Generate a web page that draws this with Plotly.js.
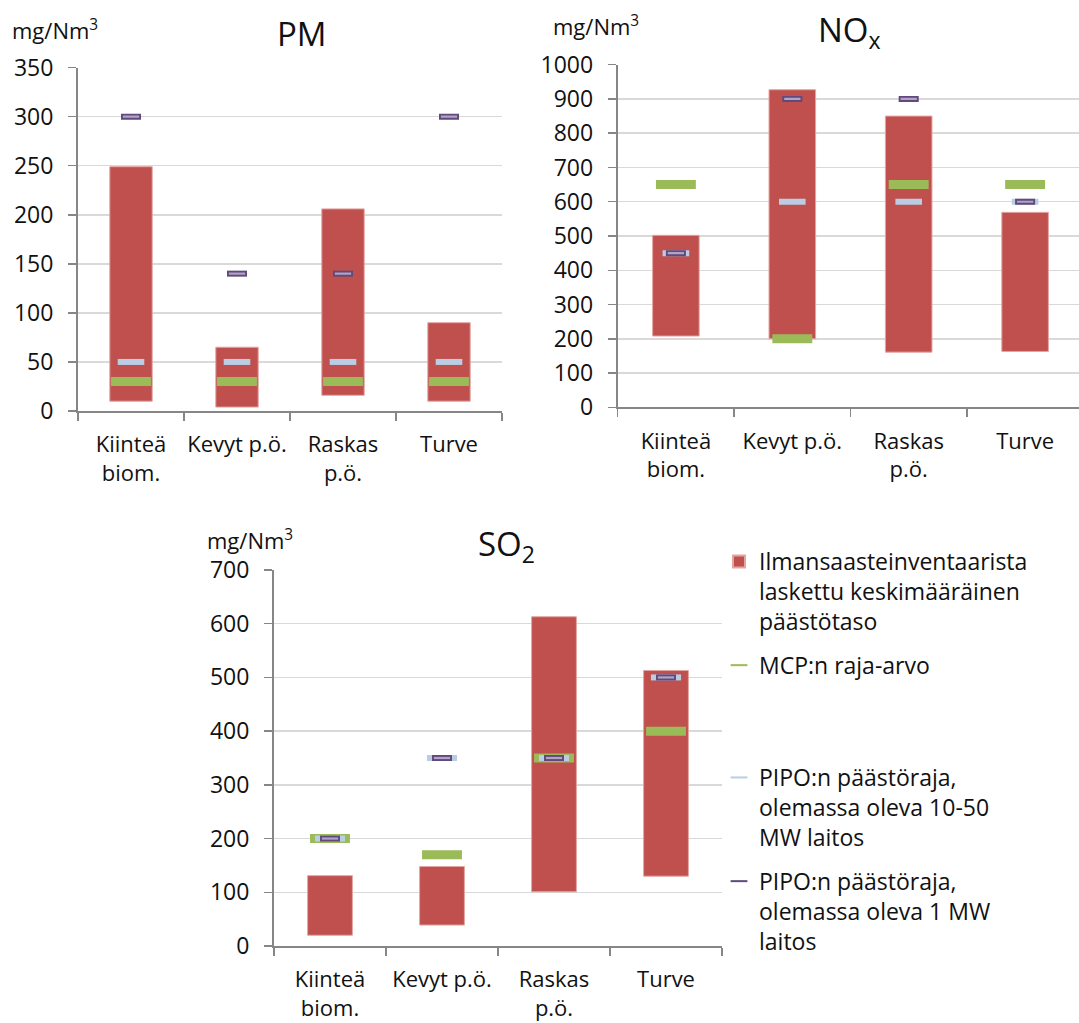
<!DOCTYPE html>
<html>
<head>
<meta charset="utf-8">
<script src="https://cdn.plot.ly/plotly-3.0.1.min.js"></script>
<style>html,body{margin:0;padding:0;background:#fff;}</style>
</head>
<body>
<div id="chart" style="width:1079px;height:1023px;"></div>
<script>
// ---- data ----
const categories = ['Kiinteä biom.', 'Kevyt p.ö.', 'Raskas p.ö.', 'Turve'];
const tickLabels = ['Kiinteä<br>biom.', 'Kevyt p.ö.', 'Raskas<br>p.ö.', 'Turve'];
const seriesNames = [
  'Ilmansaasteinventaarista<br>laskettu keskimääräinen<br>päästötaso',
  'MCP:n raja-arvo',
  'PIPO:n päästöraja,<br>olemassa oleva 10-50<br>MW laitos',
  'PIPO:n päästöraja,<br>olemassa oleva 1 MW<br>laitos'
];
const chartTitles = ['PM', 'NO<sub>x</sub>', 'SO<sub>2</sub>'];
const unitLabel = 'mg/Nm<sup>3</sup>';

// PM
const pmLow    = [10, 4, 16, 10];
const pmHigh   = [249, 65, 206, 90];
const pmMcp    = [30, 30, 30, 30];
const pmPipo50 = [50, 50, 50, 50];
const pmPipo1  = [300, 140, 140, 300];
// NOx
const noxLow    = [208, 200, 161, 163];
const noxHigh   = [502, 927, 850, 569];
const noxMcp    = [650, 200, 650, 650];
const noxPipo50 = [450, 600, 600, 600];
const noxPipo1  = [450, 900, 900, 600];
// SO2
const so2Low    = [20, 39, 101, 130];
const so2High   = [131, 148, 613, 513];
const so2Mcp    = [200, 170, 350, 400];
const so2Pipo50 = [200, 350, 350, 500];
const so2Pipo1  = [200, 350, 350, 500];

// ---- styles ----
const RED = '#c0504d', GREEN = '#9bbb59', LBLUE = '#b9cde5', PDARK = '#5f4a7b', PLIGHT = '#b3a2c7';
const FONT = 'Open Sans, Noto Sans, DejaVu Sans, sans-serif';

function buildTraces(xa, ya, low, high, mcp, p50, p1, first, lbSize) {
  const tr = [];
  tr.push({
    type: 'bar', x: categories, y: high.map((h, i) => h - low[i]), base: low,
    width: 0.4, xaxis: xa, yaxis: ya, name: seriesNames[0], legend: 'legend',
    legendgroup: 's0', showlegend: first,
    marker: {color: RED, line: {color: '#e3a5a3', width: 1}}
  });
  tr.push({
    type: 'scatter', mode: 'markers', x: categories, y: mcp, xaxis: xa, yaxis: ya,
    name: seriesNames[1], legend: 'legend', legendgroup: 's1', showlegend: first,
    marker: {symbol: 'line-ew', size: 28.5, color: GREEN, line: {color: GREEN, width: 9}}
  });
  tr.push({
    type: 'scatter', mode: 'markers', x: categories, y: p50, xaxis: xa, yaxis: ya,
    name: seriesNames[2], legend: 'legend2', legendgroup: 's2', showlegend: first,
    marker: {symbol: 'line-ew', size: lbSize, color: LBLUE, line: {color: LBLUE, width: 6}}
  });
  tr.push({
    type: 'scatter', mode: 'markers', x: categories, y: p1, xaxis: xa, yaxis: ya,
    name: seriesNames[3], legend: 'legend2', legendgroup: 's3', showlegend: first,
    marker: {symbol: 'line-ew', size: 14.3, color: PDARK, line: {color: PDARK, width: 6}}
  });
  tr.push({
    type: 'scatter', mode: 'markers', x: categories, y: p1, xaxis: xa, yaxis: ya,
    name: seriesNames[3], legendgroup: 's3', showlegend: false,
    marker: {symbol: 'line-ew', size: 11.6, color: PLIGHT, line: {color: PLIGHT, width: 2.2}}
  });
  return tr;
}

const traces = []
  .concat(buildTraces('x', 'y', pmLow, pmHigh, pmMcp, pmPipo50, pmPipo1, true, 19))
  .concat(buildTraces('x2', 'y2', noxLow, noxHigh, noxMcp, noxPipo50, noxPipo1, false, 19))
  .concat(buildTraces('x3', 'y3', so2Low, so2High, so2Mcp, so2Pipo50, so2Pipo1, false, 21.5));

const W = 1079, H = 1023;
const px = v => v / W;
const py = v => 1 - v / H;

function xAxis(d0, d1, anchor, rng) {
  return {
    domain: [px(d0), px(d1)], anchor: anchor, type: 'category',
    categoryorder: 'array', categoryarray: categories,
    tickmode: 'array', tickvals: categories, ticktext: tickLabels,
    range: rng, tickson: 'boundaries', ticks: 'outside', ticklen: 8,
    tickwidth: 1.5, tickcolor: '#868686', showline: true, linecolor: '#868686',
    linewidth: 2, showgrid: false, zeroline: false, fixedrange: true,
    tickangle: 0, automargin: false,
    tickfont: {family: FONT, size: 22, color: '#111'}, ticklabelstandoff: 13
  };
}
function yAxis(bottom, top, anchor, maxV, dt) {
  return {
    domain: [py(bottom), py(top)], anchor: anchor, range: [0, maxV], dtick: dt,
    tick0: 0, ticks: 'outside', ticklen: 8, tickwidth: 1.5, tickcolor: '#868686',
    showline: true, linecolor: '#868686', linewidth: 2, showgrid: true,
    gridcolor: '#d9d9d9', gridwidth: 1.5, zeroline: false, fixedrange: true,
    automargin: false,
    tickfont: {family: FONT, size: 23, color: '#111'}, ticklabelstandoff: 10
  };
}

const legendBase = {
  xanchor: 'left', yanchor: 'top',
  font: {family: FONT, size: 23, color: '#111'}, itemsizing: 'constant',
  valign: 'top', bgcolor: 'rgba(0,0,0,0)', tracegroupgap: 11, traceorder: 'grouped'
};

const annFont = (s) => ({family: FONT, size: s, color: '#111'});
const layout = {
  width: W, height: H, margin: {l: 0, r: 0, t: 0, b: 0},
  paper_bgcolor: '#fff', plot_bgcolor: '#fff',
  barmode: 'overlay', hovermode: false,
  font: {family: FONT, color: '#111'},
  xaxis: xAxis(78, 502, 'y', [-0.5, 3.5]),
  yaxis: yAxis(411, 67.6, 'x', 350, 50),
  xaxis2: xAxis(617.7, 1079, 'y2', [-0.5, -0.5 + (1079 - 617.7) / 116.4]),
  yaxis2: yAxis(407.3, 64.7, 'x2', 1000, 100),
  xaxis3: xAxis(274, 722, 'y3', [-0.5, 3.5]),
  yaxis3: yAxis(946, 570, 'x3', 700, 100),
  legend: Object.assign({x: px(719), y: py(540)}, legendBase),
  legend2: Object.assign({x: px(719), y: py(756)}, legendBase),
  annotations: [
    {text: unitLabel, xref: 'paper', yref: 'paper', x: px(10), y: py(30), xanchor: 'left', yanchor: 'middle', showarrow: false, font: annFont(22)},
    {text: chartTitles[0], xref: 'paper', yref: 'paper', x: px(302), y: py(34), xanchor: 'center', yanchor: 'middle', showarrow: false, font: annFont(33)},
    {text: unitLabel, xref: 'paper', yref: 'paper', x: px(551), y: py(26), xanchor: 'left', yanchor: 'middle', showarrow: false, font: annFont(22)},
    {text: chartTitles[1], xref: 'paper', yref: 'paper', x: px(849), y: py(32), xanchor: 'center', yanchor: 'middle', showarrow: false, font: annFont(33)},
    {text: unitLabel, xref: 'paper', yref: 'paper', x: px(205), y: py(539), xanchor: 'left', yanchor: 'middle', showarrow: false, font: annFont(22)},
    {text: chartTitles[2], xref: 'paper', yref: 'paper', x: px(506), y: py(545), xanchor: 'center', yanchor: 'middle', showarrow: false, font: annFont(33)}
  ]
};

Plotly.newPlot('chart', traces, layout, {staticPlot: true, displayModeBar: false});
</script>
</body>
</html>
